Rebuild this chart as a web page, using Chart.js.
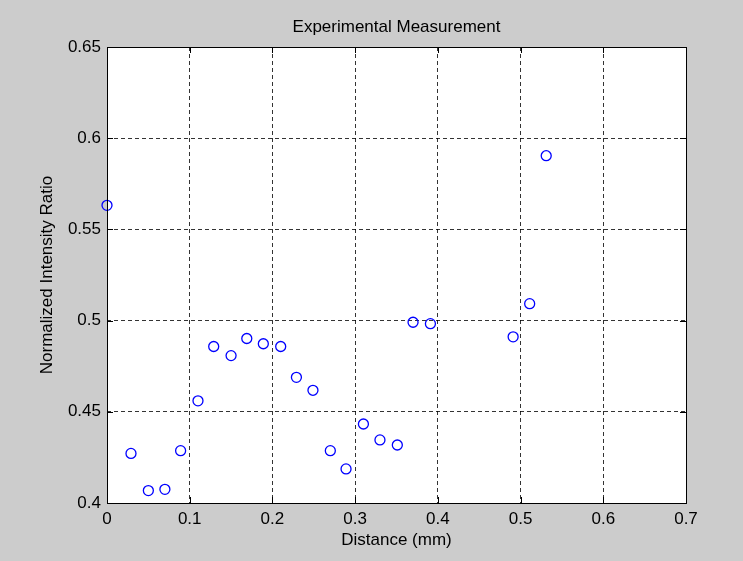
<!DOCTYPE html>
<html lang="en">
<head>
    <meta charset="UTF-8">
    <title>Experimental Measurement</title>
    <script src="https://cdn.jsdelivr.net/npm/chart.js"></script>
    <style>
        body { margin: 0; background: #cccccc; }
        canvas { display: block; }
    </style>
</head>
<body>
    <canvas id="chart" width="743" height="561"></canvas>

    <script>
        // measured points
        const distance = [0, 0.029, 0.050, 0.070, 0.089, 0.110, 0.129, 0.150, 0.169, 0.189, 0.210, 0.229,
                          0.249, 0.270, 0.289, 0.310, 0.330, 0.351, 0.370, 0.391, 0.491, 0.511, 0.531];
        const ratio = [0.5632, 0.4272, 0.4068, 0.4075, 0.4287, 0.4560, 0.4858, 0.4808, 0.4902, 0.4873, 0.4858, 0.4689,
                       0.4618, 0.4287, 0.4187, 0.4433, 0.4346, 0.4318, 0.4991, 0.4983, 0.4911, 0.5093, 0.5904];

        const xTickLabels = ['0', '0.1', '0.2', '0.3', '0.4', '0.5', '0.6', '0.7'];
        const yTickLabels = ['0.4', '0.45', '0.5', '0.55', '0.6', '0.65'];

        const font = { family: "'Liberation Sans', Arial, sans-serif", size: 17 };

        // white plot area, black box and inward tick marks like matlab
        const axesBox = {
            id: 'axesBox',
            beforeDraw(chart) {
                const { ctx, chartArea: a } = chart;
                ctx.save();
                ctx.fillStyle = '#cccccc';
                ctx.fillRect(0, 0, chart.width, chart.height);
                ctx.fillStyle = '#ffffff';
                ctx.fillRect(a.left, a.top, a.right - a.left, a.bottom - a.top);
                ctx.restore();
            },
            afterDraw(chart) {
                const { ctx, chartArea: a, scales } = chart;
                const len = 6;
                ctx.save();
                ctx.strokeStyle = '#000000';
                ctx.lineWidth = 1;
                ctx.beginPath();
                scales.x.ticks.forEach(t => {
                    const px = Math.round(scales.x.getPixelForValue(t.value)) + 0.5;
                    ctx.moveTo(px, a.bottom); ctx.lineTo(px, a.bottom - len);
                    ctx.moveTo(px, a.top); ctx.lineTo(px, a.top + len);
                });
                scales.y.ticks.forEach(t => {
                    const py = Math.round(scales.y.getPixelForValue(t.value)) + 0.5;
                    ctx.moveTo(a.left, py); ctx.lineTo(a.left + len, py);
                    ctx.moveTo(a.right, py); ctx.lineTo(a.right - len, py);
                });
                ctx.stroke();
                ctx.strokeRect(Math.round(a.left) + 0.5, Math.round(a.top) + 0.5,
                               Math.round(a.right - a.left), Math.round(a.bottom - a.top));
                ctx.restore();
            }
        };

        new Chart(document.getElementById('chart'), {
            type: 'scatter',
            data: {
                datasets: [{
                    data: distance.map((x, i) => ({ x: x, y: ratio[i] })),
                    pointStyle: 'circle',
                    pointRadius: 5,
                    pointHoverRadius: 5,
                    pointBorderWidth: 1.3,
                    borderColor: '#0000ff',
                    backgroundColor: 'rgba(0,0,0,0)',
                    clip: false
                }]
            },
            options: {
                responsive: false,
                animation: false,
                layout: { padding: { left: 0, right: 57, top: 0, bottom: 0 } },
                plugins: {
                    legend: { display: false },
                    tooltip: { enabled: false },
                    title: {
                        display: true,
                        fullSize: false, // center over the plot area
                        text: 'Experimental Measurement',
                        color: '#000000',
                        font: { family: font.family, size: 17, weight: 'normal' },
                        padding: { top: 16.8, bottom: 9.8 }
                    }
                },
                scales: {
                    x: {
                        type: 'linear',
                        min: 0,
                        max: 0.7,
                        ticks: {
                            stepSize: 0.1,
                            color: '#000000',
                            font: font,
                            padding: 6,
                            maxRotation: 0,
                            callback: (v, i) => xTickLabels[i]
                        },
                        grid: {
                            color: 'rgba(0,0,0,0.8)',
                            drawTicks: false
                        },
                        border: { display: false, dash: [4, 3] },
                        title: {
                            display: true,
                            text: 'Distance (mm)',
                            color: '#000000',
                            font: font,
                            padding: { top: 0, bottom: 10.8 }
                        },
                        afterFit(scale) { scale.height = 58; }
                    },
                    y: {
                        type: 'linear',
                        min: 0.4,
                        max: 0.65,
                        ticks: {
                            stepSize: 0.05,
                            color: '#000000',
                            font: font,
                            padding: 6,
                            callback: (v, i) => yTickLabels[i]
                        },
                        grid: {
                            color: 'rgba(0,0,0,0.8)',
                            drawTicks: false
                        },
                        border: { display: false, dash: [4, 3] },
                        title: {
                            display: true,
                            text: 'Normalized Intensity Ratio',
                            color: '#000000',
                            font: font,
                            padding: { top: 36.8, bottom: 0 }
                        },
                        afterFit(scale) { scale.width = 107; }
                    }
                }
            },
            plugins: [axesBox]
        });
    </script>
</body>
</html>
